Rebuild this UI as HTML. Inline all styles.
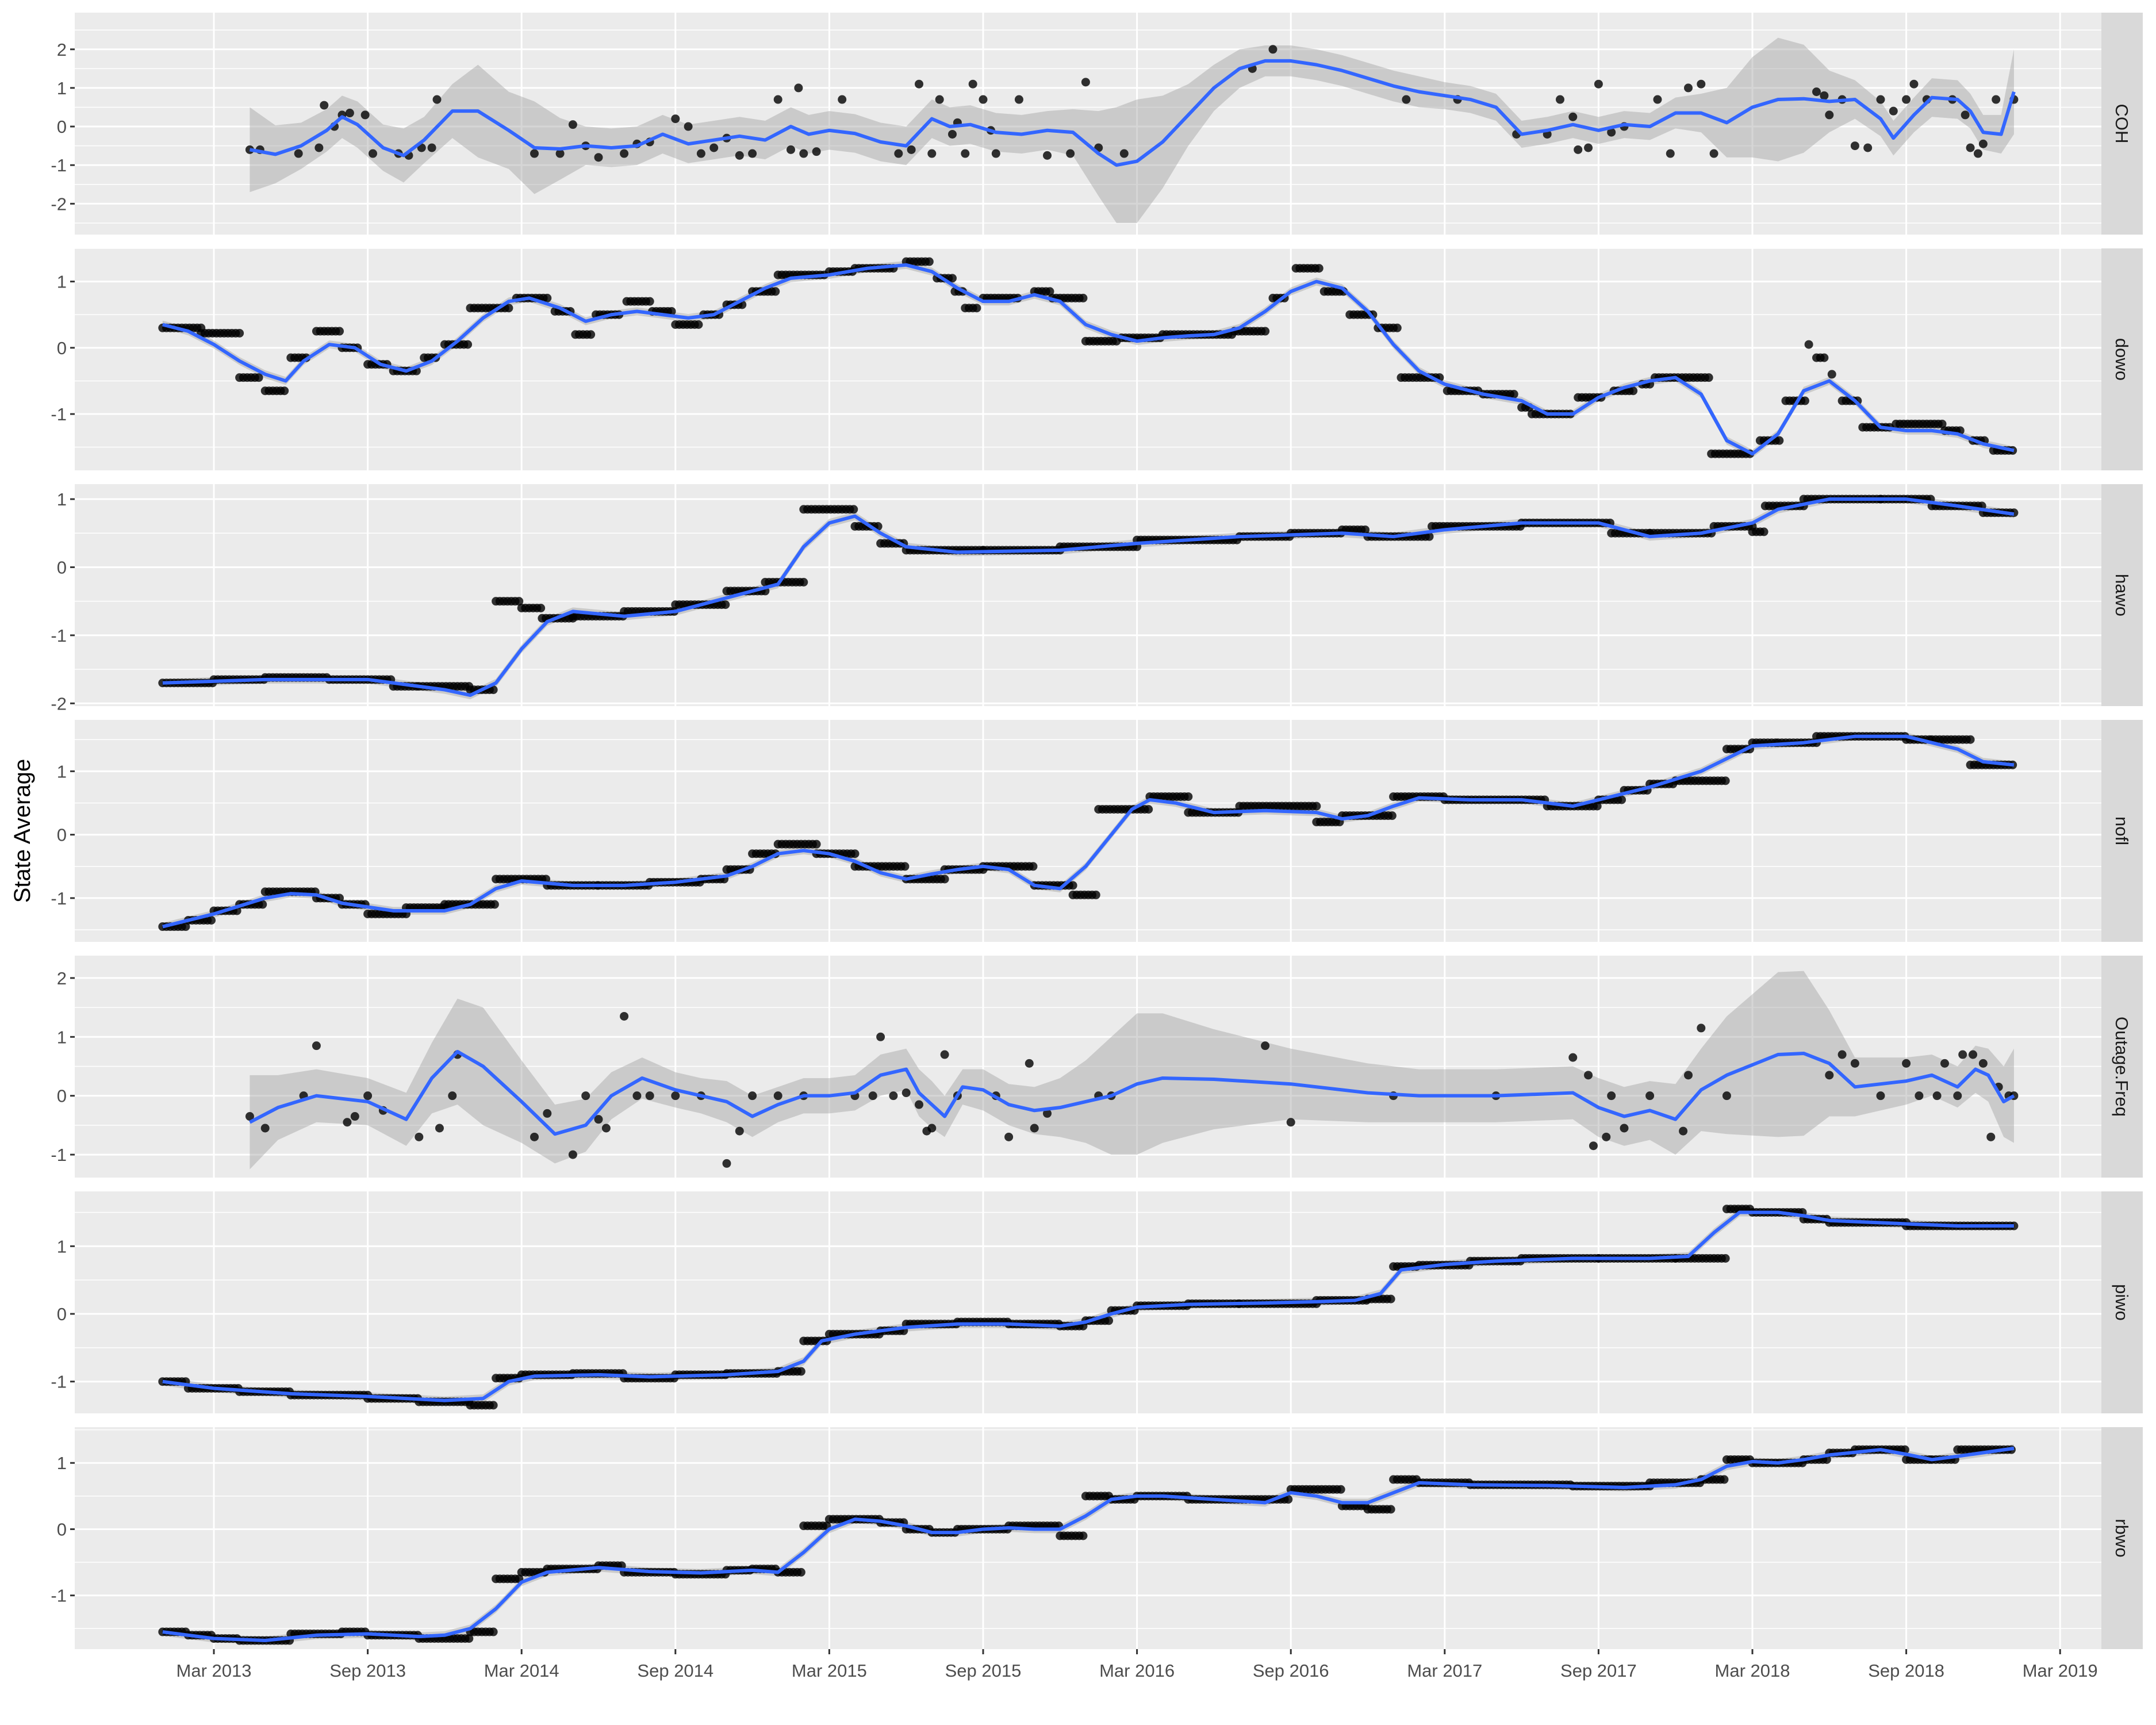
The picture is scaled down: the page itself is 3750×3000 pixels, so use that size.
<!DOCTYPE html>
<html><head><meta charset="utf-8"><style>
html,body{margin:0;padding:0;background:#fff;}
svg{display:block;font-family:"Liberation Sans",sans-serif;}
</style></head><body>
<svg id="chart" width="3750" height="3000" viewBox="0 0 3750 3000" xmlns="http://www.w3.org/2000/svg">
<rect x="0" y="0" width="3750" height="3000" fill="#ffffff"/>
<text x="52" y="1445" font-size="40" fill="#000" text-anchor="middle" transform="rotate(-90 52 1445)">State Average</text>
</svg>
<script>
// x axis: months since Mar 2013
const xTickMonths = [0,6,12,18,24,30,36,42,48,54,60,66,72];
const xTickLabels = ["Mar 2013","Sep 2013","Mar 2014","Sep 2014","Mar 2015","Sep 2015","Mar 2016","Sep 2016","Mar 2017","Sep 2017","Mar 2018","Sep 2018","Mar 2019"];
const panelNames = ["COH","dowo","hawo","nofl","Outage.Freq","piwo","rbwo"];
const panelYMax = [2.95,1.5,1.22,1.81,2.38,1.81,1.54];
const panelYMin = [-2.8,-1.85,-2.04,-1.69,-1.39,-1.47,-1.81];
const panelTicks = [[-2,-1,0,1,2],[-1,0,1],[-2,-1,0,1],[-1,0,1],[-1,0,1,2],[-1,0,1],[-1,0,1]];

// COH
const cohLineM = [1.4,2.4,3.4,4.4,5,5.6,6.6,7.4,8.2,9.3,10.3,11.5,12.5,13.5,14.5,15.5,16.5,17.5,18.5,19.5,20.5,21.5,22.5,23.2,24,25,26,27,28,28.7,29.5,30.5,31.5,32.5,33.5,34.5,35.2,36,37,38,39,40,41,42,43,44,45,46,47,48,49,50,51,52,53,54,55,56,57,58,59,60,61,62,63,64,65,65.5,66.3,67,68,68.5,69,69.7,70.2];
const cohLineV = [-0.6,-0.72,-0.5,-0.1,0.25,0.05,-0.55,-0.75,-0.35,0.4,0.4,-0.1,-0.55,-0.58,-0.5,-0.55,-0.5,-0.2,-0.45,-0.35,-0.25,-0.35,0,-0.2,-0.1,-0.18,-0.4,-0.5,0.2,0,0.05,-0.15,-0.2,-0.1,-0.15,-0.7,-1.0,-0.9,-0.4,0.3,1.0,1.5,1.7,1.7,1.6,1.45,1.25,1.05,0.9,0.8,0.7,0.5,-0.2,-0.1,0.05,-0.1,0.05,0,0.35,0.35,0.1,0.5,0.7,0.72,0.65,0.7,0.2,-0.3,0.3,0.75,0.7,0.4,-0.15,-0.2,0.9];
const cohLineSE = [1.1,0.75,0.6,0.55,0.55,0.6,0.6,0.7,0.6,0.7,1.2,1.0,1.2,0.8,0.5,0.5,0.5,0.5,0.5,0.5,0.5,0.5,0.5,0.5,0.5,0.5,0.5,0.5,0.5,0.5,0.5,0.5,0.5,0.5,0.6,1.1,1.5,1.6,1.2,0.8,0.6,0.5,0.4,0.4,0.4,0.4,0.4,0.4,0.4,0.35,0.35,0.35,0.35,0.35,0.35,0.35,0.35,0.35,0.4,0.5,0.9,1.3,1.6,1.4,0.8,0.5,0.45,0.45,0.45,0.5,0.5,0.45,0.45,0.5,1.1];
const cohPtsM = [1.4,1.8,3.3,4.1,4.3,4.7,5,5.3,5.9,6.2,7.2,7.6,8.1,8.5,8.7,12.5,13.5,14,14.5,15,16,16.5,17,18,18.5,19,19.5,20,20.5,21,22,22.5,22.8,23,23.5,24.5,26.7,27.2,27.5,28,28.3,28.8,29,29.3,29.6,30,30.3,30.5,31.4,32.5,33.4,34,34.5,35.5,40.5,41.3,46.5,48.5,50.8,52,52.5,53,53.2,53.6,54,54.5,55,56.3,56.8,57.5,58,58.5,62.5,62.8,63,63.5,64,64.5,65,65.5,66,66.3,66.8,67.8,68.3,68.5,68.8,69,69.5,70.2];
const cohPtsV = [-0.6,-0.6,-0.7,-0.55,0.55,0,0.3,0.35,0.3,-0.7,-0.7,-0.75,-0.55,-0.55,0.7,-0.7,-0.7,0.05,-0.5,-0.8,-0.7,-0.45,-0.4,0.2,0,-0.7,-0.55,-0.3,-0.75,-0.7,0.7,-0.6,1.0,-0.7,-0.65,0.7,-0.7,-0.6,1.1,-0.7,0.7,-0.2,0.1,-0.7,1.1,0.7,-0.1,-0.7,0.7,-0.75,-0.7,1.15,-0.55,-0.7,1.5,2.0,0.7,0.7,-0.2,-0.2,0.7,0.25,-0.6,-0.55,1.1,-0.15,0,0.7,-0.7,1.0,1.1,-0.7,0.9,0.8,0.3,0.7,-0.5,-0.55,0.7,0.4,0.7,1.1,0.7,0.7,0.3,-0.55,-0.7,-0.45,0.7,0.7];

// dowo
const dowoSteps = [[-2,-0.5,0.3],[-0.5,1,0.22],[1,1.8,-0.45],[2,2.8,-0.65],[3,3.7,-0.15],[4,4.9,0.25],[5,5.7,0],[6,6.8,-0.25],[7,8,-0.35],[8.2,8.7,-0.15],[9,10,0.05],[10,11.6,0.6],[11.8,13,0.75],[13.3,14,0.55],[14.1,14.8,0.2],[14.9,15.8,0.5],[16.1,17,0.7],[17.1,17.9,0.55],[18,19,0.35],[19.1,19.7,0.5],[20,20.7,0.65],[21,21.9,0.85],[22,23.9,1.1],[24,25,1.15],[25,26.6,1.2],[27,28,1.3],[28.2,28.8,1.05],[28.9,29.2,0.85],[29.3,29.8,0.6],[30,31.4,0.75],[32,32.6,0.85],[32.7,34,0.75],[34,35.2,0.1],[35.4,37,0.15],[37,39.8,0.2],[39.8,41.1,0.25],[41.3,41.8,0.75],[42.2,43.2,1.2],[43.3,44.1,0.85],[44.3,45.3,0.5],[45.4,46.2,0.3],[46.3,47.9,-0.45],[48.1,49.3,-0.65],[49.5,50.8,-0.7],[51,51.3,-0.9],[51.4,53,-1.0],[53.2,54.1,-0.75],[54.6,55.4,-0.65],[55.7,56.1,-0.55],[56.2,58.4,-0.45],[58.4,60,-1.6],[60.3,61.1,-1.4],[61.3,62.1,-0.8],[62.2,62.2,0.05],[62.5,62.9,-0.15],[63.1,63.2,-0.4],[63.5,64.1,-0.8],[64.3,65.4,-1.2],[65.6,67.5,-1.15],[67.5,68.1,-1.25],[68.6,69.1,-1.4],[69.4,70.2,-1.55]];
const dowoLine = [[-2,0.35],[-1,0.25],[0,0.05],[1,-0.2],[2,-0.4],[2.8,-0.5],[3.5,-0.2],[4.5,0.05],[5.5,0],[6.5,-0.25],[7.5,-0.35],[8.5,-0.2],[9.5,0.1],[10.5,0.45],[11.5,0.7],[12.3,0.75],[13.5,0.6],[14.5,0.4],[15.5,0.5],[16.5,0.55],[17.5,0.5],[18.5,0.45],[19.5,0.5],[20.5,0.7],[21.5,0.9],[22.5,1.05],[24,1.1],[25.5,1.2],[27,1.25],[28,1.15],[29,0.9],[30,0.7],[31,0.7],[32,0.8],[33,0.7],[34,0.35],[35,0.2],[36,0.1],[37,0.15],[38,0.18],[39,0.2],[40,0.3],[41,0.55],[42,0.85],[43,1.0],[44,0.9],[45,0.55],[46,0.05],[47,-0.35],[48,-0.55],[49.5,-0.7],[51,-0.8],[52,-1.0],[53,-1.0],[54,-0.75],[55,-0.6],[56,-0.5],[57,-0.45],[58,-0.7],[59,-1.4],[60,-1.6],[61,-1.3],[62,-0.65],[63,-0.5],[64,-0.8],[65,-1.2],[66,-1.25],[67,-1.25],[68,-1.3],[69,-1.45],[70.2,-1.55]];

// hawo
const hawoSteps = [[-2,0,-1.7],[0,2,-1.65],[2,4.5,-1.62],[4.5,7,-1.65],[7,8,-1.75],[8,10,-1.75],[10,11,-1.8],[11,12,-0.5],[12,12.8,-0.6],[12.8,14,-0.75],[14,16,-0.72],[16,18,-0.65],[18,20,-0.55],[20,21.5,-0.35],[21.5,23,-0.22],[23,25,0.85],[25,26,0.6],[26,27,0.35],[27,30,0.25],[30,33,0.25],[33,36,0.3],[36,40,0.4],[40,42,0.45],[42,44,0.5],[44,45,0.55],[45,47.5,0.45],[47.5,51,0.6],[51,54.5,0.65],[54.5,56,0.5],[56,58.5,0.5],[58.5,60,0.6],[60,60.5,0.52],[60.5,62,0.9],[62,65,1.0],[65,67,1.0],[67,69,0.9],[69,70.2,0.8]];
const hawoLine = [[-2,-1.7],[2,-1.65],[6,-1.65],[9,-1.8],[10,-1.88],[11,-1.7],[12,-1.2],[13,-0.8],[14,-0.65],[16,-0.72],[18,-0.65],[20,-0.45],[22,-0.25],[23,0.3],[24,0.65],[25,0.75],[26,0.5],[27,0.3],[29,0.22],[33,0.25],[36,0.35],[40,0.45],[44,0.5],[46,0.45],[48,0.55],[51,0.65],[54,0.65],[56,0.45],[58,0.5],[60,0.65],[61,0.85],[63,1.0],[66,1.0],[68,0.9],[70.2,0.78]];

// nofl
const noflSteps = [[-2,-1,-1.45],[-1,0,-1.35],[0,1,-1.2],[1,2,-1.1],[2,4,-0.9],[4,5,-1.0],[5,6,-1.1],[6,7.5,-1.25],[7.5,9,-1.15],[9,11,-1.1],[11,13,-0.7],[13,15,-0.8],[15,17,-0.8],[17,19,-0.75],[19,20,-0.7],[20,21,-0.55],[21,22,-0.3],[22,23.5,-0.15],[23.5,25,-0.3],[25,27,-0.5],[27,28.5,-0.7],[28.5,30,-0.55],[30,32,-0.5],[32,33.5,-0.8],[33.5,34.5,-0.95],[34.5,36.5,0.4],[36.5,38,0.6],[38,40,0.35],[40,43,0.45],[43,44,0.2],[44,46,0.3],[46,48,0.6],[48,52,0.55],[52,54,0.45],[54,55,0.55],[55,56,0.7],[56,57,0.8],[57,59,0.85],[59,60,1.35],[60,61,1.45],[61,62.5,1.45],[62.5,66,1.55],[66,67,1.5],[67,68.5,1.5],[68.5,70.2,1.1]];
const noflLine = [[-2,-1.45],[0,-1.25],[2,-1.0],[3,-0.93],[4,-0.95],[5,-1.08],[7,-1.2],[9,-1.2],[10,-1.1],[11,-0.85],[12,-0.73],[14,-0.8],[16,-0.8],[18,-0.75],[20,-0.65],[21,-0.5],[22,-0.3],[23,-0.25],[24,-0.3],[25,-0.42],[26,-0.6],[27,-0.7],[28,-0.62],[29,-0.55],[30,-0.5],[31,-0.55],[32,-0.8],[33,-0.85],[34,-0.5],[35,0],[35.8,0.4],[36.5,0.55],[37.5,0.5],[39,0.35],[41,0.38],[43,0.35],[44,0.25],[45,0.3],[46,0.45],[47,0.58],[49,0.55],[51,0.55],[53,0.45],[54,0.55],[56,0.75],[58,1.0],[59,1.2],[60,1.4],[62,1.45],[64,1.55],[66,1.55],[67,1.45],[68,1.35],[69,1.15],[70.2,1.1]];

// Outage.Freq
const outLineM = [1.4,2.5,4,6,7.5,8.5,9.5,10.5,12,13.3,14.5,15.5,16.7,18,19,20,21,22,23,24,25,26,27,27.5,28,28.5,29.2,30,31,32,33,34,35,36,37,39,42,45,47,50,53,54,55,56,57,58,59,61,62,63,64,66,67,68,68.7,69.2,69.8,70.2];
const outLineV = [-0.45,-0.2,0,-0.1,-0.4,0.3,0.75,0.5,-0.1,-0.65,-0.5,0,0.3,0.1,0,-0.1,-0.35,-0.15,0,0,0.05,0.35,0.45,0.05,-0.15,-0.35,0.15,0.1,-0.15,-0.25,-0.2,-0.1,0,0.2,0.3,0.28,0.2,0.05,0,0,0.05,-0.2,-0.35,-0.25,-0.4,0.1,0.35,0.7,0.72,0.55,0.15,0.25,0.35,0.15,0.45,0.35,-0.1,0];
const outLineSE = [0.8,0.55,0.45,0.4,0.45,0.6,0.9,1.0,0.7,0.5,0.45,0.4,0.35,0.3,0.3,0.35,0.35,0.3,0.3,0.3,0.3,0.35,0.35,0.4,0.4,0.35,0.3,0.35,0.35,0.4,0.5,0.7,1.0,1.2,1.1,0.85,0.6,0.5,0.45,0.45,0.45,0.5,0.5,0.5,0.6,0.7,1.0,1.4,1.4,0.9,0.5,0.4,0.35,0.35,0.4,0.45,0.6,0.8];
const outPtsM = [1.4,2,3.5,4,5.2,5.5,6,6.6,8,8.8,9.3,9.5,12.5,13,14,14.5,15,15.3,16,16.5,17,18,19,20,20.5,21,22,23,25,25.7,26,26.5,27,27.5,27.8,28,28.5,29,30.5,31,31.8,32,32.5,34.5,35,41,42,46,50,53,53.6,53.8,54.3,54.5,55,56,57.3,57.5,58,59,63,63.5,64,65,66,66.5,67.2,67.5,68,68.2,68.6,69,69.3,69.6,70,70.2];
const outPtsV = [-0.35,-0.55,0,0.85,-0.45,-0.35,0,-0.25,-0.7,-0.55,0,0.7,-0.7,-0.3,-1.0,0,-0.4,-0.55,1.35,0,0,0,0,-1.15,-0.6,0,0,0,0,0,1.0,0,0.05,-0.15,-0.6,-0.55,0.7,0,0,-0.7,0.55,-0.55,-0.3,0,0,0.85,-0.45,0,0,0.65,0.35,-0.85,-0.7,0,-0.55,0,-0.6,0.35,1.15,0,0.35,0.7,0.55,0,0.55,0,0,0.55,0,0.7,0.7,0.55,-0.7,0.15,0,0];

// piwo
const piwoSteps = [[-2,-1,-1.0],[-1,1,-1.1],[1,3,-1.15],[3,6,-1.2],[6,8,-1.25],[8,10,-1.3],[10,11,-1.35],[11,12,-0.95],[12,14,-0.9],[14,16,-0.88],[16,18,-0.95],[18,20,-0.9],[20,22,-0.88],[22,23,-0.85],[23,24,-0.4],[24,26,-0.3],[26,27,-0.25],[27,29,-0.15],[29,31,-0.12],[31,33,-0.15],[33,34,-0.18],[34,35,-0.1],[35,36,0.05],[36,38,0.12],[38,40,0.15],[40,43,0.15],[43,45,0.2],[45,46,0.22],[46,47,0.7],[47,49,0.72],[49,51,0.78],[51,54,0.82],[54,57,0.82],[57,59,0.82],[59,60,1.55],[60,62,1.5],[62,63,1.4],[63,66,1.35],[66,70.2,1.3]];
const piwoLine = [[-2,-1.0],[0,-1.1],[3,-1.18],[6,-1.22],[9,-1.28],[10.5,-1.25],[11.5,-1.0],[12.5,-0.92],[15,-0.9],[17,-0.93],[20,-0.9],[22,-0.85],[23,-0.7],[23.7,-0.4],[25,-0.3],[27,-0.2],[29,-0.15],[31,-0.15],[33,-0.18],[34,-0.12],[35,0.0],[36,0.1],[38,0.14],[41,0.16],[43,0.18],[44.5,0.2],[45.5,0.3],[46.3,0.65],[48,0.73],[50,0.78],[53,0.82],[56,0.82],[57.5,0.85],[58.5,1.2],[59.5,1.5],[61,1.5],[62,1.45],[63,1.38],[66,1.33],[68,1.3],[70.2,1.3]];

// rbwo
const rbwoSteps = [[-2,-1,-1.55],[-1,0,-1.6],[0,1,-1.65],[1,3,-1.68],[3,5,-1.58],[5,6,-1.55],[6,8,-1.6],[8,10,-1.65],[10,11,-1.55],[11,12,-0.75],[12,13,-0.65],[13,15,-0.6],[15,16,-0.55],[16,18,-0.65],[18,20,-0.68],[20,21,-0.62],[21,22,-0.6],[22,23,-0.65],[23,24,0.05],[24,26,0.15],[26,27,0.1],[27,28,0],[28,29,-0.05],[29,31,0],[31,33,0.05],[33,34,-0.1],[34,35,0.5],[35,36,0.45],[36,38,0.5],[38,42,0.45],[42,44,0.6],[44,45,0.35],[45,46,0.3],[46,47,0.75],[47,49,0.7],[49,53,0.67],[53,56,0.65],[56,58,0.7],[58,59,0.75],[59,60,1.05],[60,62,1.0],[62,63,1.05],[63,64,1.15],[64,66,1.2],[66,67,1.05],[67,68,1.05],[68,70.2,1.2]];
const rbwoLine = [[-2,-1.55],[0,-1.65],[2,-1.68],[4,-1.6],[6,-1.58],[8,-1.62],[9,-1.6],[10,-1.5],[11,-1.2],[12,-0.8],[13,-0.65],[15,-0.58],[17,-0.64],[19,-0.66],[21,-0.62],[22,-0.65],[23,-0.35],[24,0],[25,0.15],[26,0.12],[27,0.05],[28,-0.05],[29,-0.05],[30,0],[31,0.02],[32,0],[33,0],[34,0.2],[35,0.45],[36,0.5],[37,0.5],[39,0.45],[41,0.4],[42,0.55],[43,0.5],[44,0.4],[45,0.4],[46,0.55],[47,0.7],[49,0.67],[52,0.66],[55,0.63],[57,0.67],[58,0.75],[59,0.95],[60,1.02],[61,1.0],[62,1.05],[63,1.12],[65,1.2],[66,1.13],[67,1.05],[68,1.1],[70.2,1.22]];

const svg = document.getElementById('chart');
const NS = 'http://www.w3.org/2000/svg';
const PL = 130, PR = 3655, PT0 = 22, PH = 386, PSTEP = 410, STRIPW = 72;
function xs(m){ return 372 + m * 44.6; }
function mk(tag, attrs){ const e = document.createElementNS(NS, tag); for (const k in attrs) e.setAttribute(k, attrs[k]); return e; }

function drawPanel(i, lineM, lineV, lineSE, ptsM, ptsV){
  const top = PT0 + PSTEP * i, ymax = panelYMax[i], ymin = panelYMin[i];
  const ys = v => top + (ymax - v) / (ymax - ymin) * PH;
  const g = mk('g', {});
  
  
  svg.appendChild(g);
  const bg = mk('rect', {x: PL, y: top, width: PR - PL, height: PH, fill: '#ebebeb'});
  
  
  g.appendChild(bg);
  for (let v = Math.ceil(ymin * 2) / 2; v <= ymax; v += 0.5) {
    if (Math.abs(v - Math.round(v)) < 1e-6) continue;
    const l = mk('line', {x1: PL, x2: PR, y1: ys(v), y2: ys(v), stroke: '#fff', 'stroke-width': 1.5});
    
    
    g.appendChild(l);
  }
  panelTicks[i].forEach(v => {
    const l = mk('line', {x1: PL, x2: PR, y1: ys(v), y2: ys(v), stroke: '#fff', 'stroke-width': 3});
    
    
    g.appendChild(l);
    const t = mk('line', {x1: PL - 8, x2: PL, y1: ys(v), y2: ys(v), stroke: '#333', 'stroke-width': 3});
    
    
    g.appendChild(t);
    const tx = mk('text', {x: PL - 14, y: ys(v) + 11, 'font-size': 31, fill: '#4d4d4d', 'text-anchor': 'end'});
    tx.textContent = String(v);
    
    
    g.appendChild(tx);
  });
  xTickMonths.forEach(m => {
    const l = mk('line', {x1: xs(m), x2: xs(m), y1: top, y2: top + PH, stroke: '#fff', 'stroke-width': 3});
    
    
    g.appendChild(l);
  });
  let up = [], dn = [];
  for (let k = 0; k < lineM.length; k++) { up.push(xs(lineM[k]) + ',' + ys(lineV[k] + lineSE[k])); dn.unshift(xs(lineM[k]) + ',' + ys(lineV[k] - lineSE[k])); }
  const rib = mk('polygon', {points: up.concat(dn).join(' '), fill: '#999', 'fill-opacity': 0.4});
  
  
  g.appendChild(rib);
  for (let k = 0; k < ptsM.length; k++) {
    const c = mk('circle', {cx: xs(ptsM[k]), cy: ys(ptsV[k]), r: 7.5, fill: '#000', 'fill-opacity': 0.8});
    
    
    g.appendChild(c);
  }
  const pts = lineM.map((m, k) => xs(m) + ',' + ys(lineV[k])).join(' ');
  const pl = mk('polyline', {points: pts, fill: 'none', stroke: '#3366ff', 'stroke-width': 6, 'stroke-linejoin': 'round'});
  
  
  g.appendChild(pl);
  const st = mk('rect', {x: PR, y: top, width: STRIPW, height: PH, fill: '#d9d9d9'});
  
  
  g.appendChild(st);
  const cx = PR + STRIPW / 2, cy = top + PH / 2;
  const lab = mk('text', {x: cx, y: cy + 11, 'font-size': 31, fill: '#1a1a1a', 'text-anchor': 'middle', transform: 'rotate(90 ' + cx + ' ' + cy + ')'});
  lab.textContent = panelNames[i];
  
  
  g.appendChild(lab);
}

function fromSteps(steps){
  const m = [], v = [];
  steps.forEach(s => { for (let t = s[0]; t <= s[1] + 1e-6; t += 0.15) { m.push(t); v.push(s[2]); } });
  return [m, v];
}
function fromLine(line){ return [line.map(p => p[0]), line.map(p => p[1]), line.map(() => 0.06)]; }

drawPanel(0, cohLineM, cohLineV, cohLineSE, cohPtsM, cohPtsV);
[[1, dowoLine, dowoSteps],[2, hawoLine, hawoSteps],[3, noflLine, noflSteps]].forEach(p => {
  const L = fromLine(p[1]), S = fromSteps(p[2]);
  drawPanel(p[0], L[0], L[1], L[2], S[0], S[1]);
});
drawPanel(4, outLineM, outLineV, outLineSE, outPtsM, outPtsV);
[[5, piwoLine, piwoSteps],[6, rbwoLine, rbwoSteps]].forEach(p => {
  const L = fromLine(p[1]), S = fromSteps(p[2]);
  drawPanel(p[0], L[0], L[1], L[2], S[0], S[1]);
});

const bottom = PT0 + PSTEP * 6 + PH;
xTickMonths.forEach((m, k) => {
  const t = mk('line', {x1: xs(m), x2: xs(m), y1: bottom, y2: bottom + 9, stroke: '#333', 'stroke-width': 3});
  
  
  svg.appendChild(t);
  const tx = mk('text', {x: xs(m), y: bottom + 48, 'font-size': 31, fill: '#4d4d4d', 'text-anchor': 'middle'});
  tx.textContent = xTickLabels[k];
  
  
  svg.appendChild(tx);
});
</script>
</body></html>
